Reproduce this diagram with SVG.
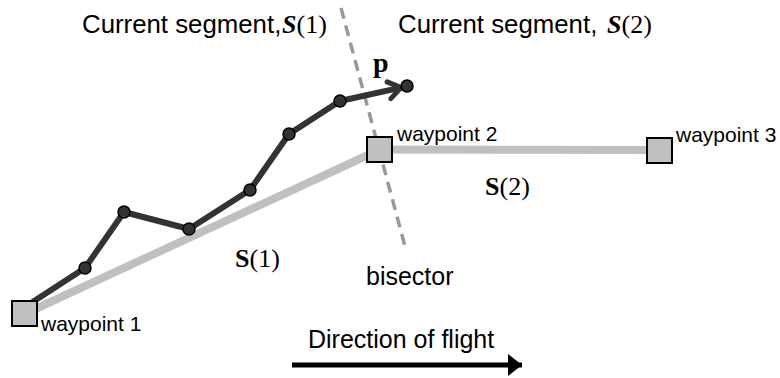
<svg xmlns="http://www.w3.org/2000/svg" width="780" height="378" viewBox="0 0 780 378">
<style>
.sans{font-family:"Liberation Sans",Arial,sans-serif;fill:#000}
.big{font-size:25px}
.top{font-size:25.8px}
.small{font-size:21px}
.serif{font-family:"Liberation Serif","Times New Roman",serif;font-size:26px;fill:#000}
.bold{font-weight:bold}
.it{font-style:italic}
.seg{stroke:#c0c0c0;stroke-width:8;fill:none}
.wp{fill:#c0c0c0;stroke:#000;stroke-width:2}
.dot{fill:#333;stroke:#000;stroke-width:1.5}
.track{stroke:#333;stroke-width:6;fill:none;stroke-linejoin:round}
</style>
<defs>
<marker id="chev" markerUnits="userSpaceOnUse" markerWidth="40" markerHeight="40" viewBox="-20 -20 40 40" refX="0" refY="0" orient="auto">
<path d="M-12.3,-8.6 L0,0 L-12.3,8.6" fill="none" stroke="#333" stroke-width="5" stroke-linejoin="round" stroke-linecap="round"/>
</marker>
<marker id="tri" markerUnits="userSpaceOnUse" markerWidth="30" markerHeight="30" viewBox="-15 -15 30 30" refX="0" refY="0" orient="auto">
<path d="M-14,-11 L0,0 L-14,11 Z" fill="#000"/>
</marker>
</defs>
<g id="connectors">
<line id="bisector-line" x1="341" y1="8" x2="406" y2="250" stroke="#999" stroke-width="3.5" stroke-dasharray="11,7"/>
<line id="seg1" class="seg" x1="24.5" y1="314" x2="380" y2="149.5"/>
<line id="seg2" class="seg" x1="380" y1="149.5" x2="660" y2="150"/>
<polyline id="track" class="track" points="28,305 85,268 124,212 189,229 250,190 289,134 340,101 401,87.6" marker-end="url(#chev)"/>
<line id="flight-dir" x1="292" y1="365" x2="522" y2="365" stroke="#000" stroke-width="5" marker-end="url(#tri)"/>
</g>
<g id="track-points">
<circle class="dot" cx="85" cy="268" r="6"/>
<circle class="dot" cx="124" cy="212" r="6"/>
<circle class="dot" cx="189" cy="229" r="6"/>
<circle class="dot" cx="250" cy="190" r="6"/>
<circle class="dot" cx="289" cy="134" r="6"/>
<circle class="dot" cx="340" cy="101" r="6"/>
<circle class="dot" cx="407" cy="86" r="6"/>
</g>
<g id="waypoint1">
<rect class="wp" x="12" y="301" width="25" height="25"/>
<text class="sans small" x="41" y="331">waypoint 1</text>
</g>
<g id="waypoint2">
<rect class="wp" x="367" y="137" width="25" height="25"/>
<text class="sans small" x="397" y="141">waypoint 2</text>
</g>
<g id="waypoint3">
<rect class="wp" x="647" y="138" width="25" height="25"/>
<text class="sans small" x="676" y="142">waypoint 3</text>
</g>
<g id="labels">
<text class="sans top" x="82" y="33">Current segment,</text>
<text class="serif" x="282" y="33"><tspan class="bold it">S</tspan>(1)</text>
<text class="sans top" x="398" y="33">Current segment,</text>
<text class="serif" x="607" y="33"><tspan class="bold it">S</tspan>(2)</text>
<text class="serif bold" x="373" y="72" style="font-size:28px">p</text>
<text class="serif" x="485" y="195"><tspan class="bold">S</tspan>(2)</text>
<text class="serif" x="235" y="267"><tspan class="bold">S</tspan>(1)</text>
<text class="sans big" x="366" y="285">bisector</text>
<text class="sans big" x="308" y="348">Direction of flight</text>
</g>
</svg>
